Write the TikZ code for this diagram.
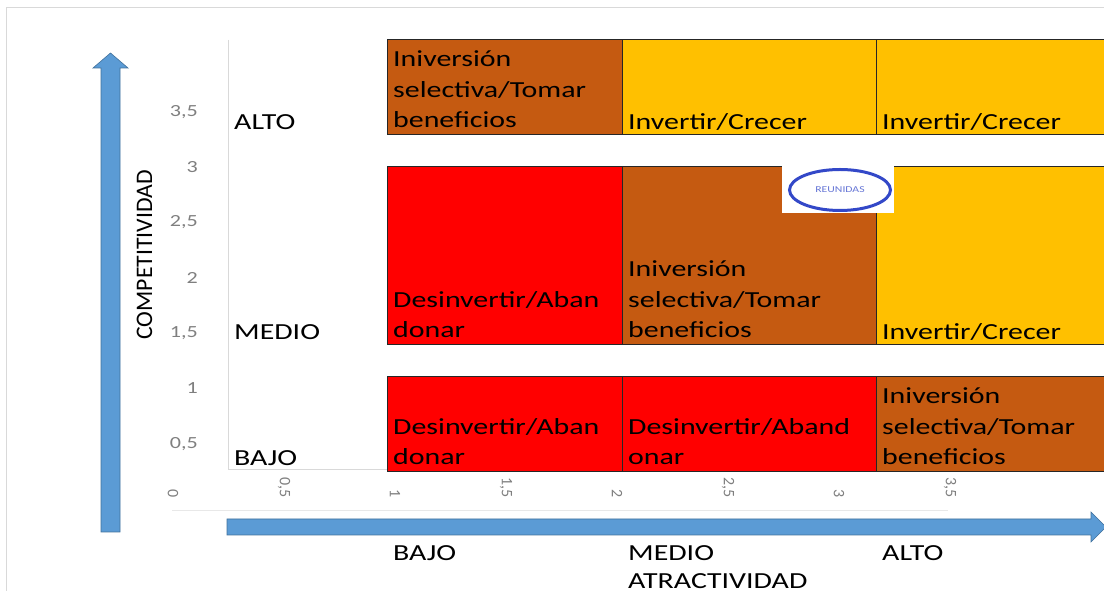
\documentclass[tikz,border=0pt]{standalone}
\usepackage{fontspec}
\setmainfont{Carlito}[FakeStretch=1.3]
\newfontfamily\plainfont{Carlito}
\usetikzlibrary{positioning}
\definecolor{marrone}{HTML}{C55A11}
\definecolor{giallo}{HTML}{FFC000}
\definecolor{rosso}{HTML}{FF0000}
\definecolor{freccia}{HTML}{5B9BD5}
\definecolor{bordofreccia}{HTML}{41719C}
\definecolor{griglia}{HTML}{D9D9D9}
\definecolor{tacche}{HTML}{7F7F7F}
\definecolor{logoblu}{HTML}{3348C8}
\begin{document}
\begin{tikzpicture}[x=1pt, y=1pt,
    cella/.style = {draw=black!85, line width=1pt, outer sep=0pt, inner sep=0pt},
    testo/.style = {inner sep=0pt, align=left, font=\fontsize{23}{30.5}\selectfont},
    etichetta/.style = {inner sep=0pt, anchor=base west, font=\fontsize{23}{28}\selectfont},
    tacca/.style = {inner sep=0pt, text=tacche, font=\fontsize{17}{17}\selectfont},
    asse/.style = {fill=freccia, draw=bordofreccia, line width=0.6pt}]
\useasboundingbox (0,0) rectangle (1104,591);
% cornice e bordi del grafico
\draw[griglia, line width=1pt] (6,0) -- (6,583) -- (1104,583);
\draw[griglia, line width=1pt] (228,551) -- (228,121) -- (387,121);
\draw[griglia!60, line width=1pt] (172,80) -- (948,80);

% frecce degli assi
\draw[asse] (101,59) -- (101,523) -- (93,523) -- (110.5,538) -- (128,523) -- (120,523) -- (120,59) -- cycle;
\draw[asse] (227,56) -- (1091,56) -- (1091,49) -- (1106,64) -- (1091,79) -- (1091,72) -- (227,72) -- cycle;

% celle della matrice
\node[cella, fill=marrone, minimum width=235, minimum height=95, anchor=north west] (c11) at (387,551) {};
\node[cella, fill=giallo, minimum width=254, minimum height=95] (c12) [right=0pt of c11] {};
\node[cella, fill=giallo, minimum width=240, minimum height=95] (c13) [right=0pt of c12] {};
\node[cella, fill=rosso, minimum width=235, minimum height=178, anchor=north west] (c21) at (387,424) {};
\node[cella, fill=marrone, minimum width=254, minimum height=178] (c22) [right=0pt of c21] {};
\node[cella, fill=giallo, minimum width=240, minimum height=178] (c23) [right=0pt of c22] {};
\node[cella, fill=rosso, minimum width=235, minimum height=95, anchor=north west] (c31) at (387,214) {};
\node[cella, fill=rosso, minimum width=254, minimum height=95] (c32) [right=0pt of c31] {};
\node[cella, fill=marrone, minimum width=240, minimum height=95] (c33) [right=0pt of c32] {};

\node[testo, above right=7pt and 6pt of c11.south west] (t11) {Iniversión\\selectiva/Tomar\\beneficios};
\node[testo, above right=4pt and 6pt of c12.south west] (t12) {Invertir/Crecer};
\node[testo, above right=4pt and 6pt of c13.south west] (t13) {Invertir/Crecer};
\node[testo, above right=7pt and 6pt of c21.south west] (t21) {Desinvertir/Aban\\donar};
\node[testo, above right=7pt and 6pt of c22.south west] (t22) {Iniversión\\selectiva/Tomar\\beneficios};
\node[testo, above right=4pt and 6pt of c23.south west] (t23) {Invertir/Crecer};
\node[testo, above right=7pt and 6pt of c31.south west] (t31) {Desinvertir/Aban\\donar};
\node[testo, above right=7pt and 6pt of c32.south west] (t32) {Desinvertir/Aband\\onar};
\node[testo, above right=7pt and 6pt of c33.south west] (t33) {Iniversión\\selectiva/Tomar\\beneficios};

% logo
\node[fill=white, minimum width=112, minimum height=47, inner sep=0pt] (logo) at (838,401.5) {};
\draw[logoblu, line width=3pt] (840,401) ellipse [x radius=50.5, y radius=20.5];
\node[text=logoblu!75, inner sep=0pt, font=\fontsize{9}{9}\selectfont] (reunidas) at (840,401) {REUNIDAS};

% tacche degli assi
\foreach \etic [count=\i] in {{0,5},1,{1,5},2,{2,5},3,{3,5}}
    \node[tacca, anchor=east] (ty\i) at (198,92+55.3*\i) {\etic};
\foreach \etic [count=\i from 0] in {0,{0,5},1,{1,5},2,{2,5},3,{3,5}}
    \node[tacca, font=\plainfont\fontsize{16}{16}\selectfont, rotate=-90, anchor=east] (tx\i) at (173+111*\i,93) {\etic};

% etichette
\node[etichetta] (alto) at (234,461) {ALTO};
\node[etichetta] (medio) at (234,251) {MEDIO};
\node[etichetta] (basso) at (234,125) {BAJO};
\node[etichetta] (xbasso) at (393,30) {BAJO};
\node[etichetta] (xmedio) at (628,30) {MEDIO};
\node[etichetta] (xalto) at (882,30) {ALTO};
\node[etichetta] (attr) at (628,2) {ATRACTIVIDAD};
\node[inner sep=0pt, rotate=90, anchor=base, font=\plainfont\fontsize{23.7}{28}\selectfont] (comp) at (152,336) {COMPETITIVIDAD};
\end{tikzpicture}
\end{document}
